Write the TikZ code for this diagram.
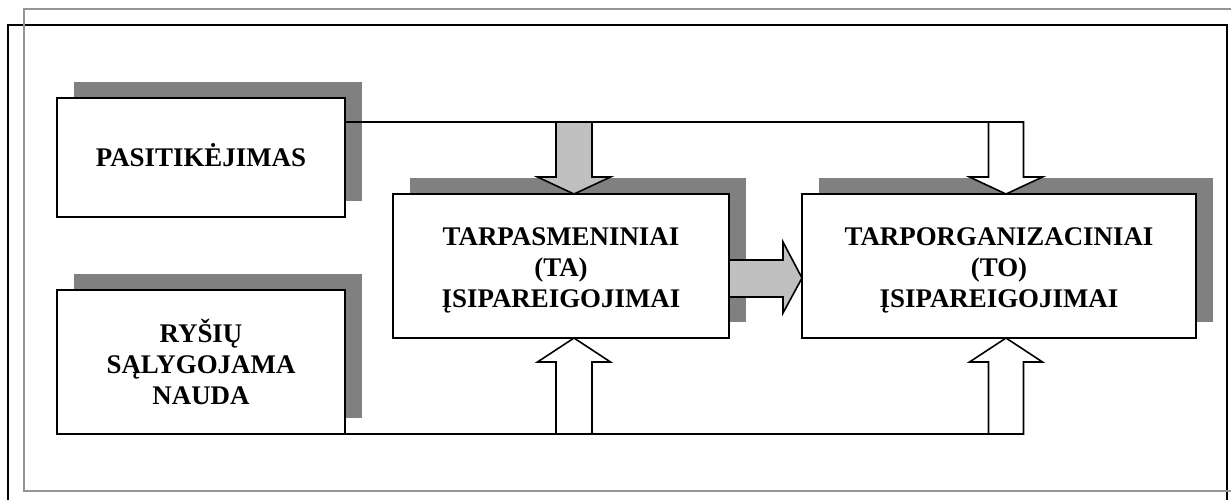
\documentclass[tikz,border=0pt]{standalone}
\usepackage{fontspec}
\setmainfont{Liberation Serif}
\usetikzlibrary{calc,backgrounds}
\definecolor{shadowgray}{RGB}{128,128,128}
\definecolor{arrowgray}{RGB}{192,192,192}
\definecolor{framegray}{RGB}{150,150,150}
\begin{document}
\begin{tikzpicture}[x=1pt,y=-1pt,
  box/.style={draw,line width=2pt,fill=white,inner sep=0pt,outer sep=0pt,align=center,
    text depth=0pt,font=\bfseries\fontsize{26.9}{30.7}\selectfont},
  conn/.style={line width=1.6pt},
  blockarrow/.style={draw,line width=1.6pt,line join=miter},
  grayarrow/.style={blockarrow,fill=arrowgray},
  whitearrow/.style={blockarrow,fill=white},
  frameline/.style={line width=2pt}
]
\clip (0,0) rectangle (1231,499);
% frames
\draw[frameline,draw=black] (8,25) rectangle (1227,520);
\draw[frameline,draw=framegray] (24,9) rectangle (1240,491);
% boxes
\node[box,text height=17.5pt,minimum width=288pt,minimum height=119pt] (p) at (201,157.5) {PASITIKĖJIMAS};
\node[box,text height=84pt,minimum width=288pt,minimum height=144pt] (r) at (201,362) {RYŠIŲ\\SĄLYGOJAMA\\NAUDA};
\node[box,text height=82pt,minimum width=336pt,minimum height=144pt] (ta) at (561,266) {TARPASMENINIAI\\(TA)\\ĮSIPAREIGOJIMAI};
\node[box,text height=82pt,minimum width=394pt,minimum height=144pt] (to) at (999,266) {TARPORGANIZACINIAI\\(TO)\\ĮSIPAREIGOJIMAI};
% shadows
\begin{pgfonlayer}{background}
\fill[white] (0,0) rectangle (1231,499);
\foreach \n in {p,r,ta,to}{
  \fill[shadowgray] ($(\n.south west)+(16.5pt,16pt)$) rectangle ($(\n.north east)+(16.5pt,16pt)$);
}
\end{pgfonlayer}
% arrow tip coordinates
\coordinate (taTop) at ($(ta.north west)+(181,0)$);
\coordinate (toTop) at ($(to.north west)+(204,0)$);
\coordinate (taBot) at ($(ta.south west)+(181,0)$);
\coordinate (toBot) at ($(to.south west)+(204,0)$);
\coordinate (toLeft) at ($(to.north west)+(0,84)$);
\coordinate (taRight) at ($(ta.north east)+(0,66)$);
% connector lines
\draw[conn] ($(p.north east)+(0,24)$) -- ($(toTop)+(17.5,-72)$);
\draw[conn] (r.south east) -- ($(toBot)+(17.5,96)$);
% down arrows
\draw[grayarrow] ($(taTop)+(-18,-72)$) -- ++(0,55) -- ++(-18.5,0) -- (taTop) -- ++(36.5,-17) -- ++(-18.5,0) -- ++(0,-55) -- cycle;
\draw[whitearrow] ($(toTop)+(-17.5,-72)$) -- ++(0,55) -- ++(-19,0) -- (toTop) -- ++(36.5,-17) -- ++(-19,0) -- ++(0,-55) -- cycle;
% up arrows
\draw[whitearrow] (taBot) -- ++(36.5,24) -- ++(-18.5,0) -- ++(0,72) -- ++(-36,0) -- ++(0,-72) -- ++(-18.5,0) -- cycle;
\draw[whitearrow] (toBot) -- ++(36.5,24) -- ++(-19,0) -- ++(0,72) -- ++(-35,0) -- ++(0,-72) -- ++(-19,0) -- cycle;
% right arrow
\draw[grayarrow] (taRight) -- ++(54,0) -- ++(0,-18) -- (toLeft) -- ++(-19,35) -- ++(0,-16) -- ++(-54,0) -- cycle;
\end{tikzpicture}
\end{document}
